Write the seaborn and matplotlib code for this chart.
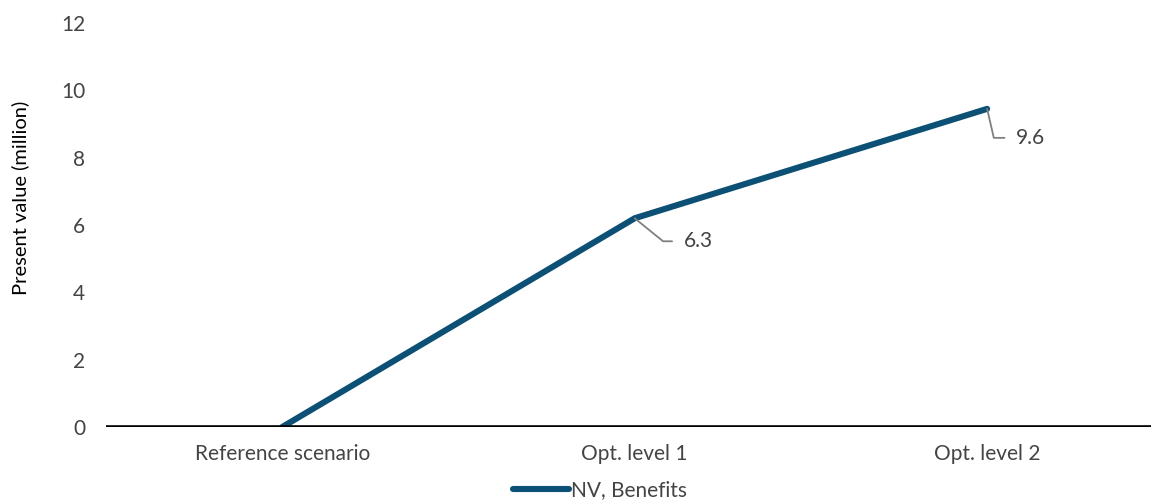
import matplotlib
matplotlib.use("Agg")
import matplotlib.pyplot as plt
import seaborn as sns
import pandas as pd

categories = ["Reference scenario", "Opt. level 1", "Opt. level 2"]
benefits = [0.0, 6.2, 9.45]
value_labels = ["", "6.3", "9.6"]
series_name = "NV, Benefits"
y_ticks = [0, 2, 4, 6, 8, 10, 12]

sns.set_theme(style="white")
plt.rcParams["font.family"] = ["Lato", "DejaVu Sans"]

df = pd.DataFrame({"scenario": categories, "value": benefits, "series": series_name})

fig = plt.figure(figsize=(11.51, 5.01), dpi=100)
ax = fig.add_axes([106 / 1151, 74 / 501, 1045 / 1151, 404 / 501])

color = "#0d5075"
tick_color = "#444444"
fs = 15
sns.lineplot(data=df, x="scenario", y="value", hue="series", palette=[color],
             sort=False, ax=ax, linewidth=4.4, solid_capstyle="round", legend=True)

ax.set_xlim(-0.5, 2.465)
ax.set_ylim(0, 12)
ax.set_yticks(y_ticks)
ax.set_yticklabels([str(t) for t in y_ticks], fontsize=fs, color=tick_color)
ax.set_xticks(range(len(categories)))
ax.set_xticklabels(categories, fontsize=fs, color=tick_color)
ax.tick_params(axis="y", length=0, pad=15)
ax.tick_params(axis="x", length=0, pad=12)
ax.set_xlabel("")
ax.set_ylabel("Present value (million)", fontsize=14.5, color="black")
ax.yaxis.set_label_coords(-77 / 1045, (427 - 198) / 404)
for s in ax.spines.values():
    s.set_visible(False)
ax.axhline(0, color="black", linewidth=2.6, zorder=5)

offsets = [None, (49, -23), (29, -29)]
angles = [None, -39, -77]
for i, lab in enumerate(value_labels):
    if not lab:
        continue
    ax.annotate(lab, xy=(i, benefits[i]), xytext=offsets[i], textcoords="offset pixels",
                ha="left", va="center", fontsize=fs, color=tick_color,
                arrowprops=dict(arrowstyle="-", color="#808080", lw=1.3,
                                connectionstyle=f"angle,angleA=0,angleB={angles[i]},rad=0",
                                relpos=(0, 0.5), shrinkA=6, shrinkB=0))

ax.get_legend().remove()
handles, labels = ax.get_legend_handles_labels()
fig.legend(handles, labels, loc="center", bbox_to_anchor=(600 / 1151, 1 - 490 / 501),
           frameon=False, fontsize=fs, handlelength=2.7, handletextpad=0.1,
           labelcolor=tick_color)

fig.savefig("out.png", dpi=100)
